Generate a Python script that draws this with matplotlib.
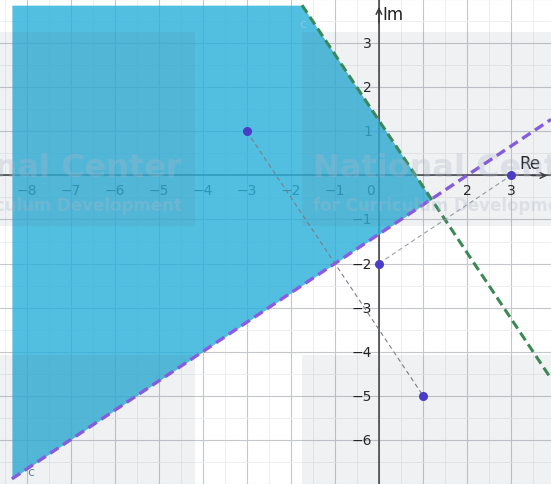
import matplotlib
matplotlib.use("Agg")
import matplotlib.pyplot as mpl
from matplotlib.patches import Rectangle
import numpy as np

# points of the two conditions |z-A|<|z-B| and |z-C|<|z-D|
pt_a=(-3,1)
pt_b=(1,-5)
pt_c=(0,-2)
pt_d=(3,0)
x_ticks=[-8,-7,-6,-5,-4,-3,-2,-1,2,3]
y_ticks=[-6,-5,-4,-3,-2,-1,1,2,3]

xlim=(-8.61,3.91)
ylim=(-7.01,4.01)
fill_left,fill_top=-8.34,3.87

def bisector(p,q):
    """Return (a,b,c) with a*x+b*y=c, the perpendicular bisector of p and q."""
    a,b=q[0]-p[0],q[1]-p[1]
    mx,my=(p[0]+q[0])/2.,(p[1]+q[1])/2.
    return a,b,a*mx+b*my

def line_y(l,x):
    a,b,c=l
    return (c-a*x)/b

purple=bisector(pt_a,pt_b)
green=bisector(pt_c,pt_d)
# vertex of the region
m=np.array([[purple[0],purple[1]],[green[0],green[1]]],dtype=float)
vx,vy=np.linalg.solve(m,np.array([purple[2],green[2]],dtype=float))

fig=mpl.figure(figsize=(5.51,4.85),dpi=100)
ax=fig.add_axes([0,0,1,1])
for s in ax.spines.values():
    s.set_visible(False)
ax.set_xticks(np.arange(-9,5))
ax.set_yticks(np.arange(-8,5))
ax.set_xticks(np.arange(-9,5,0.5),minor=True)
ax.set_yticks(np.arange(-8,5,0.5),minor=True)
ax.set_xlim(*xlim)
ax.set_ylim(*ylim)
ax.tick_params(which="both",length=0,labelbottom=False,labelleft=False)
ax.grid(which="major",color="#c4c7cc",lw=0.8,zorder=0)
ax.grid(which="minor",color="#ebecef",lw=0.6,zorder=0)
ax.set_axisbelow(True)

# watermark boxes
wm_box_x=[-10.7,-1.75]
wm_box_y=[-1.15,-8.5]
for bx in wm_box_x:
    for by in wm_box_y:
        ax.add_patch(Rectangle((bx,by),6.52,4.41,facecolor="#5c6b82",alpha=0.09,lw=0,zorder=6))
ax.text(-4.48,0.18,"National Center",fontsize=23,fontweight="bold",color="#aeb8c8",alpha=0.3,
        ha="right",va="center",zorder=6)
ax.text(-4.48,-0.68,"for Curriculum Development",fontsize=12,fontweight="bold",color="#aeb8c8",alpha=0.3,
        ha="right",va="center",zorder=6)
ax.text(-1.5,0.18,"National Center",fontsize=23,fontweight="bold",color="#aeb8c8",alpha=0.3,
        ha="left",va="center",zorder=6)
ax.text(-1.5,-0.68,"for Curriculum Development",fontsize=12,fontweight="bold",color="#aeb8c8",alpha=0.3,
        ha="left",va="center",zorder=6)

# axes
ax.axhline(0,color="#3a3a3a",lw=1.1,zorder=1)
ax.axvline(0,color="#3a3a3a",lw=1.1,zorder=1)
ax.annotate("",xy=(0,ylim[1]-0.12),xytext=(0,ylim[1]-0.6),
            arrowprops=dict(arrowstyle="->",color="#3a3a3a",lw=1.1),zorder=1)
ax.annotate("",xy=(xlim[1]-0.02,0),xytext=(xlim[1]-0.5,0),
            arrowprops=dict(arrowstyle="->",color="#3a3a3a",lw=1.1),zorder=1)
ax.text(0.07,3.68,"Im",fontsize=12,color="#222222",ha="left",va="center",zorder=1)
ax.text(3.2,0.07,"Re",fontsize=12,color="#222222",ha="left",va="bottom",zorder=1)

for v in x_ticks:
    ax.text(v,-0.17,("\u2212%d"%-v) if v<0 else str(v),fontsize=10,color="#222222",ha="center",va="top",zorder=1)
for v in y_ticks:
    ax.text(-0.16,v,("\u2212%d"%-v) if v<0 else str(v),fontsize=10,color="#222222",ha="right",va="center",zorder=1)
ax.text(-0.1,-0.17,"0",fontsize=10,color="#222222",ha="right",va="top",zorder=1)

# shaded region
xs=np.linspace(fill_left,vx,600)
ax.fill_between(xs,line_y(purple,xs),np.minimum(line_y(green,xs),fill_top),
                color="#2cb0da",alpha=0.82,lw=0,zorder=3)

# boundary lines
xp=np.array([fill_left,xlim[1]])
ax.plot(xp,line_y(purple,xp),ls=(0,(3,1.6)),color="#8a5ce6",lw=2.4,zorder=4)
gx0=(green[2]-green[1]*fill_top)/green[0]
xg=np.array([gx0,xlim[1]])
ax.plot(xg,line_y(green,xg),ls=(0,(3,1.6)),color="#3b8a55",lw=2.2,zorder=4)

# segments between the points
ax.plot([pt_a[0],pt_b[0]],[pt_a[1],pt_b[1]],ls=(0,(4,3)),color="#7a7f87",lw=0.8,zorder=5)
ax.plot([pt_c[0],pt_d[0]],[pt_c[1],pt_d[1]],ls=(0,(4,3)),color="#9a9ea5",lw=0.8,zorder=5)
for p in [pt_a,pt_b,pt_c,pt_d]:
    ax.plot(p[0],p[1],"o",color="#4a3cc6",ms=5.5,zorder=7)

ax.text(-1.8,3.45,"c",fontsize=9,color="#7fc9e6",ha="left",va="center",zorder=5)
ax.text(-8.0,-6.73,"c",fontsize=9,color="#5f8fb0",ha="left",va="center",zorder=5)

fig.savefig("out.png",dpi=100)
